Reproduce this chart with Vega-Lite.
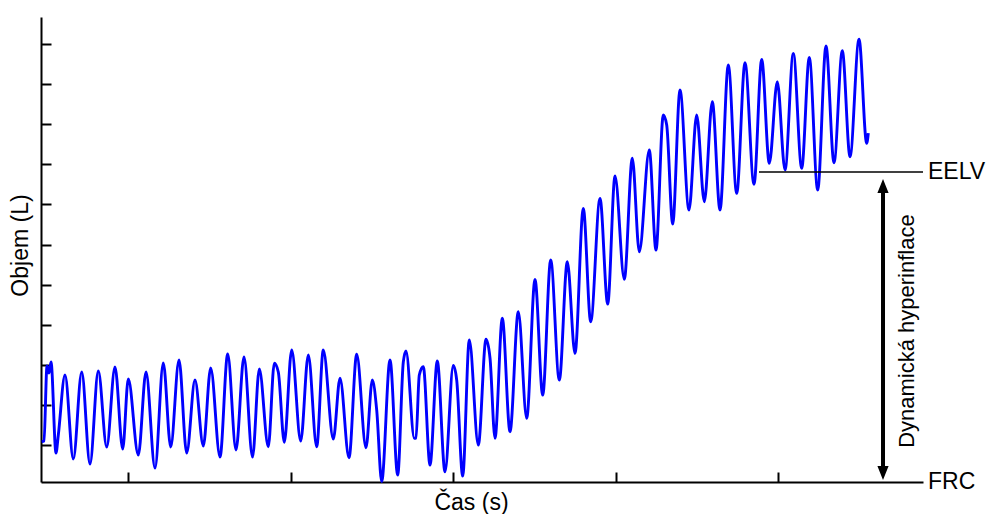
{
  "$schema": "https://vega.github.io/schema/vega-lite/v6.json",
  "width": 882,
  "height": 465,
  "autosize": {"type": "none"},
  "padding": {"left": 41, "top": 17, "right": 65, "bottom": 32},
  "background": "white",
  "config": {
    "view": {"stroke": null},
    "font": "Liberation Sans",
    "axis": {"grid": false, "labels": false, "domainColor": "black", "tickColor": "black", "domainWidth": 2, "tickWidth": 2, "titleFont": "Liberation Sans", "titleFontWeight": "normal", "titleFontSize": 23, "titleColor": "black"}
  },
  "datasets": {
    "breath": [
      {"t":4.689,"v":1.041},{"t":4.831,"v":1.05},{"t":5.015,"v":1.985},{"t":5.138,"v":1.898},{"t":5.262,"v":2.035},{"t":5.569,"v":0.9},{"t":5.711,"v":1.125},{"t":6.123,"v":1.873},{"t":6.634,"v":0.825},{"t":7.151,"v":1.91},{"t":7.662,"v":0.763},{"t":8.172,"v":1.923},{"t":8.689,"v":0.975},{"t":9.2,"v":1.973},{"t":9.674,"v":0.95},{"t":10.018,"v":1.823},{"t":10.634,"v":0.875},{"t":11.108,"v":1.91},{"t":11.662,"v":0.713},{"t":12.172,"v":2.022},{"t":12.628,"v":0.975},{"t":13.138,"v":2.06},{"t":13.612,"v":0.9},{"t":14.123,"v":1.81},{"t":14.634,"v":0.988},{"t":15.089,"v":1.96},{"t":15.662,"v":0.85},{"t":16.135,"v":2.135},{"t":16.646,"v":0.938},{"t":17.138,"v":2.097},{"t":17.662,"v":0.85},{"t":18.08,"v":1.948},{"t":18.634,"v":0.979},{"t":19.003,"v":2.019},{"t":19.249,"v":1.91},{"t":19.618,"v":1.034},{"t":20.074,"v":2.185},{"t":20.628,"v":1.05},{"t":21.095,"v":2.122},{"t":21.612,"v":0.979},{"t":22.018,"v":2.185},{"t":22.634,"v":1.075},{"t":23.046,"v":1.832},{"t":23.6,"v":0.842},{"t":24.074,"v":2.131},{"t":24.646,"v":0.966},{"t":25.034,"v":1.81},{"t":25.305,"v":1.436},{"t":25.612,"v":0.545},{"t":26.123,"v":2.06},{"t":26.597,"v":0.626},{"t":26.942,"v":2.035},{"t":27.108,"v":2.172},{"t":27.618,"v":1.084},{"t":27.723,"v":1.087},{"t":27.926,"v":1.873},{"t":28.172,"v":1.976},{"t":28.585,"v":0.751},{"t":29.034,"v":2.047},{"t":29.508,"v":0.667},{"t":30.018,"v":1.991},{"t":30.228,"v":1.81},{"t":30.597,"v":0.613},{"t":31.003,"v":2.309},{"t":31.557,"v":1.0},{"t":32.031,"v":2.318},{"t":32.277,"v":2.085},{"t":32.585,"v":1.084},{"t":33.034,"v":2.58},{"t":33.508,"v":1.166},{"t":34.018,"v":2.662},{"t":34.535,"v":1.333},{"t":35.046,"v":3.066},{"t":35.52,"v":1.623},{"t":36.012,"v":3.307},{"t":36.542,"v":1.81},{"t":37.034,"v":3.286},{"t":37.508,"v":2.143},{"t":38.018,"v":3.951},{"t":38.474,"v":2.537},{"t":39.046,"v":4.076},{"t":39.52,"v":2.758},{"t":39.969,"v":4.354},{"t":40.542,"v":3.066},{"t":41.034,"v":4.575},{"t":41.465,"v":3.41},{"t":42.08,"v":4.678},{"t":42.492,"v":3.431},{"t":42.942,"v":5.115},{"t":43.151,"v":4.99},{"t":43.52,"v":3.756},{"t":43.969,"v":5.426},{"t":44.523,"v":3.93},{"t":44.997,"v":5.115},{"t":45.465,"v":4.034},{"t":45.957,"v":5.281},{"t":46.431,"v":3.93},{"t":46.942,"v":5.738},{"t":47.458,"v":4.138},{"t":47.969,"v":5.767},{"t":48.523,"v":4.251},{"t":48.997,"v":5.809},{"t":49.465,"v":4.512},{"t":49.957,"v":5.53},{"t":50.431,"v":4.429},{"t":50.942,"v":5.884},{"t":51.458,"v":4.45},{"t":51.926,"v":5.834},{"t":52.443,"v":4.18},{"t":52.954,"v":5.975},{"t":53.446,"v":4.52},{"t":53.957,"v":5.916},{"t":54.431,"v":4.595},{"t":54.985,"v":6.059},{"t":55.458,"v":4.762},{"t":55.557,"v":4.89}
    ],
    "eelv": [{"t1": 48.831, "t2": 58.923, "v": 4.404}],
    "shaft": [{"t": 56.462, "v1": 4.2, "v2": 0.68}],
    "heads": [{"t": 56.462, "v": 4.317, "end": "top"}, {"t": 56.462, "v": 0.564, "end": "bottom"}],
    "labels": [{"t": 59.231, "v": 4.404, "label": "EELV"}, {"t": 59.231, "v": 0.539, "label": "FRC"}],
    "vlabel": [{"t": 57.938, "v": 2.421, "label": "Dynamická hyperinflace"}]
  },
  "layer": [
    {
      "data": {"name": "breath"},
      "mark": {"type": "line", "color": "#0000ff", "strokeWidth": 2.9, "interpolate": "monotone"},
      "encoding": {
        "x": {"field": "t", "type": "quantitative", "scale": {"domain": [4.646, 58.923], "nice": false, "zero": false},
              "axis": {"title": "Čas (s)", "values": [10, 20, 30, 40, 50], "tickSize": -10, "titleX": 430, "titleY": 27, "titleAlign": "center", "titleBaseline": "alphabetic"}},
        "y": {"field": "v", "type": "quantitative", "scale": {"domain": [0.539, 6.337], "nice": false, "zero": false},
              "axis": {"title": "Objem (L)", "values": [1, 1.5, 2, 2.5, 3, 3.5, 4, 4.5, 5, 5.5, 6], "tickSize": -10, "titleX": -14, "titleY": 228, "titleAngle": 270, "titleAlign": "center", "titleBaseline": "alphabetic"}}
      }
    },
    {
      "data": {"name": "eelv"},
      "mark": {"type": "rule", "color": "black", "strokeWidth": 1.5},
      "encoding": {"x": {"field": "t1", "type": "quantitative"}, "x2": {"field": "t2"}, "y": {"field": "v", "type": "quantitative"}}
    },
    {
      "data": {"name": "shaft"},
      "mark": {"type": "rule", "color": "black", "strokeWidth": 4},
      "encoding": {"x": {"field": "t", "type": "quantitative"}, "y": {"field": "v1", "type": "quantitative"}, "y2": {"field": "v2"}}
    },
    {
      "data": {"name": "heads"},
      "mark": {"type": "point", "filled": true, "color": "black", "opacity": 1, "size": 49},
      "encoding": {
        "x": {"field": "t", "type": "quantitative"},
        "y": {"field": "v", "type": "quantitative"},
        "shape": {"field": "end", "type": "nominal", "scale": {"domain": ["top", "bottom"], "range": ["M0,0L1.6,4L-1.6,4Z", "M0,0L1.6,-4L-1.6,-4Z"]}, "legend": null}
      }
    },
    {
      "data": {"name": "labels"},
      "mark": {"type": "text", "align": "left", "baseline": "middle", "fontSize": 23, "color": "black", "font": "Liberation Sans"},
      "encoding": {"x": {"field": "t", "type": "quantitative"}, "y": {"field": "v", "type": "quantitative"}, "text": {"field": "label"}}
    },
    {
      "data": {"name": "vlabel"},
      "mark": {"type": "text", "align": "center", "baseline": "middle", "angle": 270, "fontSize": 22, "color": "black", "font": "Liberation Sans"},
      "encoding": {"x": {"field": "t", "type": "quantitative"}, "y": {"field": "v", "type": "quantitative"}, "text": {"field": "label"}}
    }
  ]
}
